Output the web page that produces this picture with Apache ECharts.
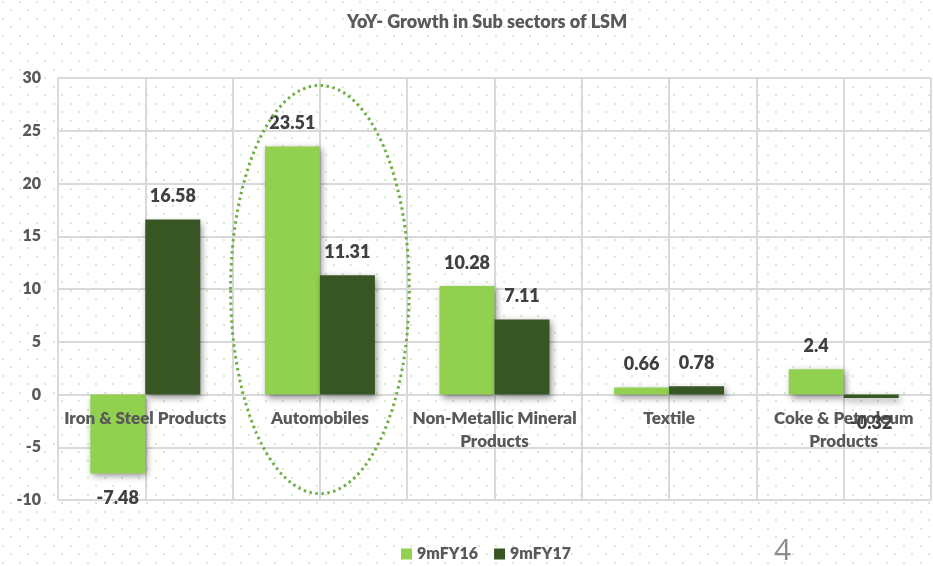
<!DOCTYPE html>
<html>
<head>
<meta charset="utf-8">
<script src="https://cdn.jsdelivr.net/npm/echarts@6/dist/echarts.min.js"></script>
<style>
  html, body { margin: 0; padding: 0; background: #fff; }
  #main { width: 933px; height: 566px; }
</style>
</head>
<body>
<div id="main"></div>
<script>
// 数据
var categories = ['Iron & Steel Products', 'Automobiles', 'Non-Metallic Mineral Products', 'Textile', 'Coke & Petroleum Products'];
var fy16 = [-7.48, 23.51, 10.28, 0.66, 2.4];
var fy17 = [16.58, 11.31, 7.11, 0.78, -0.32];
var seriesNames = ['9mFY16', '9mFY17'];

// 背景小圆点
function dotBackground() {
    var c = document.createElement('canvas');
    c.width = 17; c.height = 17;
    var ctx = c.getContext('2d');
    ctx.fillStyle = '#d8ecca';
    ctx.fillRect(2, 1, 2, 2);
    ctx.fillRect(10, 9, 2, 2);
    return c.toDataURL();
}
document.getElementById('main').style.background = 'url(' + dotBackground() + ') repeat';

// 标签换行
function wrapLabel(v) {
    if (v.length > 22) {
        var i = v.lastIndexOf(' ');
        return v.substring(0, i) + '\n' + v.substring(i + 1);
    }
    return v;
}

var txtFont = 'Lato';
var txtWeight = 800;

function barLabel() {
    return {
        show: true,
        position: 'top',
        distance: 14,
        color: '#404040',
        fontFamily: txtFont,
        fontWeight: txtWeight,
        fontSize: 18
    };
}

function barData(values) {
    return values.map(function (v) {
        var item = { value: v };
        if (v < 0) {
            item.label = { position: 'bottom', distance: 16 };
        }
        return item;
    });
}

var shadow = {
    shadowBlur: 7,
    shadowOffsetX: 2,
    shadowOffsetY: 3,
    shadowColor: 'rgba(0,0,0,0.45)'
};

var myChart = echarts.init(document.getElementById('main'));
var option = {
    animation: false,
    title: {
        text: 'YoY- Growth in Sub sectors of LSM',
        left: 342,
        top: 8,
        textStyle: {
            color: '#595959',
            fontFamily: txtFont,
            fontWeight: txtWeight,
            fontSize: 18
        }
    },
    legend: {
        data: seriesNames,
        left: 396,
        top: 541,
        itemWidth: 11,
        itemHeight: 11,
        itemGap: 16,
        icon: 'rect',
        textStyle: {
            color: '#595959',
            fontFamily: txtFont,
            fontWeight: txtWeight,
            fontSize: 16
        }
    },
    grid: {
        left: 58,
        right: 2,
        top: 78,
        bottom: 66
    },
    xAxis: [{
        type: 'category',
        data: categories,
        position: 'bottom',
        z: 8,
        axisLine: { show: false },
        axisTick: { show: false },
        splitLine: { show: false },
        axisLabel: {
            interval: 0,
            margin: -93,   // 标签放到0刻度线下面
            verticalAlign: 'top',
            color: '#595959',
            fontFamily: txtFont,
            fontWeight: txtWeight,
            fontSize: 17,
            lineHeight: 23,
            formatter: wrapLabel
        }
    }, {
        type: 'value',
        min: 0,
        max: 5,
        interval: 0.5,
        position: 'top',
        axisLine: { show: false },
        axisTick: { show: false },
        axisLabel: { show: false },
        splitLine: { show: true, lineStyle: { color: '#d9d9d9', width: 2 } }
    }],
    yAxis: {
        type: 'value',
        min: -10,
        max: 30,
        interval: 5,
        axisLine: { show: false },
        axisTick: { show: false },
        axisLabel: {
            margin: 17,
            color: '#595959',
            fontFamily: txtFont,
            fontWeight: txtWeight,
            fontSize: 16
        },
        splitLine: { lineStyle: { color: '#d9d9d9', width: 2 } }
    },
    series: [{
        name: seriesNames[0],
        type: 'bar',
        xAxisIndex: 0,
        barWidth: 55,
        barGap: '0%',
        itemStyle: Object.assign({ color: '#92d050' }, shadow),
        label: barLabel(),
        data: barData(fy16),
        z: 3
    }, {
        name: seriesNames[1],
        type: 'bar',
        xAxisIndex: 0,
        barWidth: 55,
        barGap: '0%',
        itemStyle: Object.assign({ color: '#375623' }, shadow),
        label: barLabel(),
        data: barData(fy17),
        z: 9
    }]
};
myChart.setOption(option);

// 圈出汽车类
var pTop = myChart.convertToPixel({ xAxisIndex: 0, yAxisIndex: 0 }, ['Automobiles', 29.3]);
var pBot = myChart.convertToPixel({ xAxisIndex: 0, yAxisIndex: 0 }, ['Automobiles', -9.4]);
var catW = myChart.convertToPixel({ xAxisIndex: 1 }, 1) - myChart.convertToPixel({ xAxisIndex: 1 }, 0);
myChart.setOption({
    graphic: [{
        type: 'ellipse',
        z: 10,
        shape: {
            cx: pTop[0],
            cy: (pTop[1] + pBot[1]) / 2,
            rx: catW / 2 + 2,
            ry: (pBot[1] - pTop[1]) / 2
        },
        style: {
            fill: null,
            stroke: '#70ad47',
            lineWidth: 3,
            lineDash: [2.5, 3.5]
        }
    }, {
        type: 'text',
        left: 774,
        top: 536,
        style: {
            text: '4',
            fill: '#8c8c8c',
            font: '30px "Open Sans"'
        }
    }]
});
</script>
</body>
</html>
